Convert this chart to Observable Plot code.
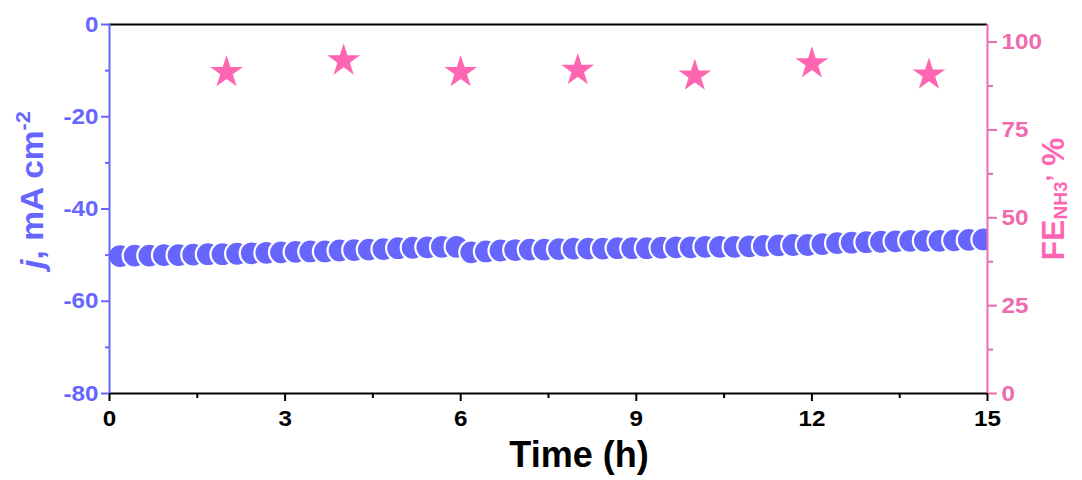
<!DOCTYPE html>
<html>
<head>
<meta charset="utf-8">
<script src="https://cdn.jsdelivr.net/npm/d3@7"></script>
<script src="https://cdn.jsdelivr.net/npm/@observablehq/plot@0.6"></script>
<style>
  html, body { margin: 0; padding: 0; background: #fff; }
  #chart svg { display: block; }
  #chart svg [aria-label$="tick label"] { font-size: 22px; font-weight: bold; }
</style>
</head>
<body>
<div id="chart"></div>
<script>
// ---- data ----
const timeH = [0.18,0.43,0.68,0.93,1.18,1.43,1.68,1.93,2.18,2.43,2.68,2.93,3.18,3.43,3.68,3.93,4.18,4.43,4.68,4.93,
  5.18,5.43,5.68,5.93,6.18,6.43,6.68,6.93,7.18,7.43,7.68,7.93,8.18,8.43,8.68,8.93,9.18,9.43,9.68,9.93,
  10.18,10.43,10.68,10.93,11.18,11.43,11.68,11.93,12.18,12.43,12.68,12.93,13.18,13.43,13.68,13.93,14.18,14.43,14.68,14.93];
const currentJ = [-50.2,-50.1,-50.1,-50.0,-50.0,-49.9,-49.8,-49.8,-49.7,-49.6,-49.5,-49.4,-49.3,-49.2,-49.2,-49.0,-48.9,-48.8,-48.7,-48.5,
  -48.4,-48.3,-48.2,-48.2,-49.4,-49.2,-49.0,-48.9,-48.8,-48.8,-48.7,-48.6,-48.6,-48.6,-48.5,-48.5,-48.5,-48.4,-48.3,-48.3,
  -48.2,-48.2,-48.2,-48.1,-48.0,-47.9,-47.8,-47.8,-47.6,-47.4,-47.3,-47.2,-47.1,-47.0,-46.9,-46.9,-46.9,-46.8,-46.7,-46.6];
const feTime = [2, 4, 6, 8, 10, 12, 14];
const feValues = [91.4, 94.7, 91.4, 92.0, 90.4, 93.9, 90.7];

const xMajor = [0, 3, 6, 9, 12, 15];
const xMinor = [1.5, 4.5, 7.5, 10.5, 13.5];
const jMajor = [-80, -60, -40, -20, 0];
const jMinor = [-70, -50, -30, -10];
const feMajor = [0, 25, 50, 75, 100];
const feMinor = [12.5, 37.5, 62.5, 87.5];
const jDomain = [-80, 0];
const feDomain = [0, 105];

// ---- styles ----
const blue = "#6666ff";
const pink = "#ff66b2";
const axisPink = "#f06aae";
const font = "'Liberation Sans', Arial, sans-serif";

// map FE (%) onto the j scale so both share the frame
const feToJ = v => jDomain[0] + (v - feDomain[0]) * (jDomain[1] - jDomain[0]) / (feDomain[1] - feDomain[0]);
const jToFe = v => feDomain[0] + (v - jDomain[0]) * (feDomain[1] - feDomain[0]) / (jDomain[1] - jDomain[0]);

const jData = timeH.map((t, i) => ({t, j: currentJ[i]}));
const feData = feTime.map((t, i) => ({t, fe: feValues[i]}));

const chart = Plot.plot({
  width: 1082,
  height: 480,
  marginLeft: 109,
  marginRight: 95,
  marginTop: 24,
  marginBottom: 87,
  x: {domain: [0, 15]},
  y: {domain: jDomain},
  style: {fontFamily: font, fontWeight: "bold", fontSize: "22px", background: "#fff", overflow: "visible"},
  marks: [
    // data
    Plot.dot(jData, {x: "t", y: "j", r: 12, fill: blue, stroke: "#fff", strokeWidth: 2.2, clip: true}),
    Plot.dot(feData, {x: "t", y: d => feToJ(d.fe), symbol: "star", r: 10.3, fill: pink}),
    // frame lines
    Plot.ruleY([jDomain[1]], {stroke: "#000", strokeWidth: 2}),
    Plot.ruleY([jDomain[0]], {stroke: "#000", strokeWidth: 2}),
    Plot.ruleX([0], {stroke: blue, strokeWidth: 2}),
    Plot.ruleX([15], {stroke: axisPink, strokeWidth: 2}),
    // bottom axis
    Plot.axisX(xMajor, {anchor: "bottom", tickSize: 8, tickPadding: 9, strokeWidth: 2, color: "#000",
      fontSize: 22, fontWeight: "bold", tickFormat: d => String(d), label: null}),
    Plot.axisX(xMinor, {anchor: "bottom", tickSize: 5, strokeWidth: 2, color: "#000", tickFormat: () => "", label: null}),
    // left axis
    Plot.axisY(jMajor, {anchor: "left", tickSize: 8, tickPadding: 3, strokeWidth: 2, color: blue,
      fontSize: 22, fontWeight: "bold", tickFormat: d => String(d), label: null}),
    Plot.axisY(jMinor, {anchor: "left", tickSize: 4, strokeWidth: 2, color: blue, tickFormat: () => "", label: null}),
    // right axis (FE %)
    Plot.axisY(feMajor.map(feToJ), {anchor: "right", tickSize: 9, tickPadding: 5, strokeWidth: 2, color: axisPink,
      fontSize: 22, fontWeight: "bold", tickFormat: d => String(Math.round(jToFe(d))), label: null}),
    Plot.axisY(feMinor.map(feToJ), {anchor: "right", tickSize: 5, strokeWidth: 2, color: axisPink, tickFormat: () => "", label: null})
  ]
});

document.getElementById("chart").appendChild(chart);

const svg = d3.select(chart);

// widen tick labels slightly (reference glyphs are broader than Arial)
svg.selectAll('[aria-label$="tick label"] text').each(function() {
  const el = this;
  const x = +el.getAttribute("x") || 0;
  const y = +el.getAttribute("y") || 0;
  const t = el.getAttribute("transform") || "";
  el.setAttribute("transform", `${t} translate(${x},${y}) scale(1.1,1) translate(${-x},${-y})`);
});

// ---- axis titles (rich text) ----
svg.append("text")
  .attr("x", 579).attr("y", 467)
  .attr("text-anchor", "middle")
  .attr("font-family", font).attr("font-weight", "bold").attr("font-size", 36)
  .attr("fill", "#000")
  .text("Time (h)");

const yTitle = svg.append("text")
  .attr("transform", "translate(43,190) rotate(-90) scale(1.08,1)")
  .attr("text-anchor", "middle")
  .attr("font-family", font).attr("font-weight", "bold").attr("font-size", 31)
  .attr("fill", blue);
yTitle.append("tspan").attr("font-style", "italic").text("j");
yTitle.append("tspan").text(", mA cm");
yTitle.append("tspan").attr("font-size", 20).attr("dy", -13).text("-2");

const y2Title = svg.append("text")
  .attr("transform", "translate(1064,199) rotate(-90)")
  .attr("text-anchor", "middle")
  .attr("font-family", font).attr("font-weight", "bold").attr("font-size", 32)
  .attr("fill", pink);
y2Title.append("tspan").text("FE");
y2Title.append("tspan").attr("font-size", 19).attr("dy", 3).text("NH3");
y2Title.append("tspan").attr("font-size", 24).attr("dy", -17).text(",");
y2Title.append("tspan").attr("dy", 14).text(" %");
</script>
</body>
</html>
